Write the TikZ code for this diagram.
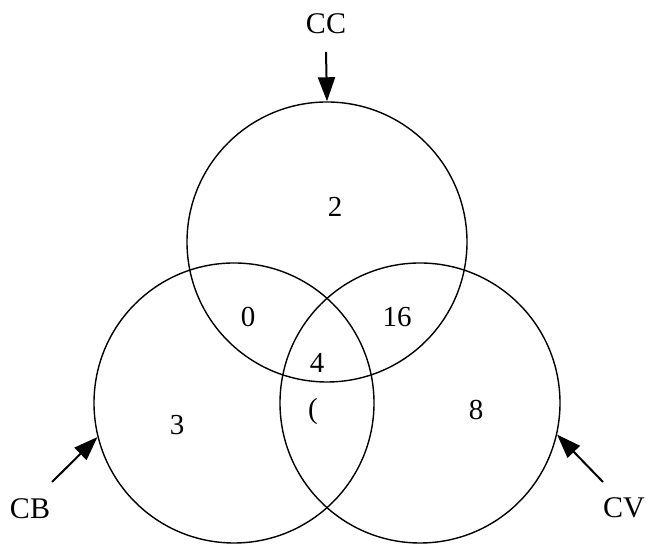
\documentclass[tikz,border=0pt]{standalone}
\usepackage{fontspec}
\setmainfont{Liberation Serif}
\usetikzlibrary{arrows.meta}
\tikzset{
  setcircle/.style={circle,draw=black,line width=0.7pt,minimum size=140pt,inner sep=0pt},
  setlabel/.style={inner sep=0pt,font=\fontsize{15}{18}\selectfont},
  countlabel/.style={inner sep=0pt,font=\fontsize{14.5}{17}\selectfont},
  pointer/.style={line width=1pt,-{Triangle[length=12pt,width=8.5pt]}}
}
\begin{document}
\begin{tikzpicture}[x=0.5pt,y=0.5pt]
            \useasboundingbox (0,0) rectangle (648,549);
            \node[setcircle] (cc) at (327,307) {};
            \node[setcircle] (cb) at (234,146) {};
            \node[setcircle] (cv) at (420,146) {};
            \node[setlabel] (lblcc) at (326,525) {CC};
            \node[setlabel] (lblcb) at (30,40) {CB};
            \node[setlabel] (lblcv) at (624,41) {CV};
            \coordinate (tailcc) at (326,497);
            \coordinate (tailcb) at (52,67);
            \coordinate (tailcv) at (603,67);
            \draw[pointer] (tailcc) -- (cc.north);
            \draw[pointer] (tailcb) -- (cb.194);
            \draw[pointer] (tailcv) -- (cv.-13);
            \foreach \x/\y/\n/\t in {335/342/only/2,248/232/ccb/0,397/232/ccv/16,317/186/all/4,313/137/cbv/(,177/124/cbonly/3,476/139/cvonly/8}{
                \node[countlabel] (n\n) at (\x,\y) {\t};
            }
        \end{tikzpicture}
\end{document}
